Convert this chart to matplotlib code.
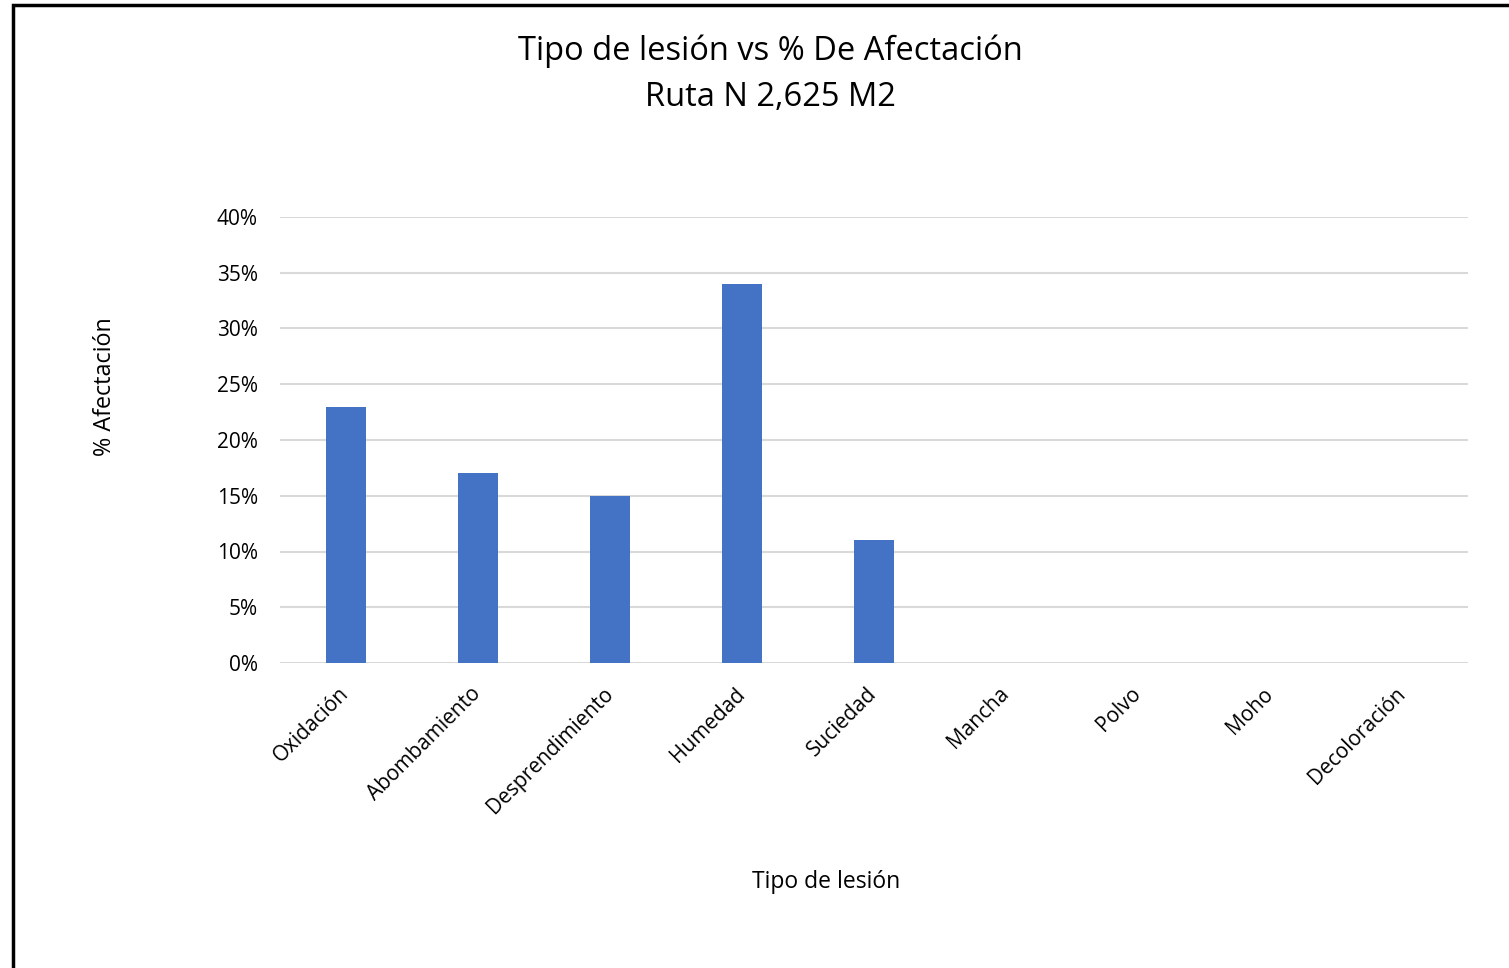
import matplotlib
matplotlib.use("Agg")
import matplotlib.pyplot as plt
from matplotlib.patches import Rectangle
from matplotlib.ticker import PercentFormatter

categories = ["Oxidación", "Abombamiento", "Desprendimiento", "Humedad", "Suciedad",
              "Mancha", "Polvo", "Moho", "Decoloración"]
values = [0.23, 0.17, 0.15, 0.34, 0.11, 0, 0, 0, 0]
yticks = [0, 0.05, 0.10, 0.15, 0.20, 0.25, 0.30, 0.35, 0.40]

plt.rcParams['font.family'] = ['Open Sans', 'DejaVu Sans']

W, H = 1509, 968
fig = plt.figure(figsize=(W/100, H/100), dpi=100)
ax = fig.add_axes([280/W, 1-663/H, (1468-280)/W, (663-217)/H])

x = list(range(len(categories)))
ax.bar(x, values, width=0.31, color="#4472C4", zorder=3)
ax.set_xlim(-0.5, len(categories)-0.5)
ax.set_ylim(0, 0.40)
ax.set_yticks(yticks)
ax.yaxis.set_major_formatter(PercentFormatter(1.0, decimals=0))
ax.grid(axis='y', color="#D9D9D9", linewidth=1.5, zorder=0)
for s in ax.spines.values():
    s.set_visible(False)
ax.tick_params(axis='both', length=0, labelsize=15, colors="#000000")
ax.tick_params(axis='y', pad=16)
ax.set_xticks(x)
ax.set_xticklabels(categories, rotation=45, ha='right', va='center', rotation_mode='anchor')
ax.tick_params(axis='x', pad=20)

fig.text(770/W, 1-51/H, "Tipo de lesión vs % De Afectación", ha='center', va='center', fontsize=23.5)
fig.text(770/W, 1-97/H, "Ruta N 2,625 M2", ha='center', va='center', fontsize=23.5)
fig.text(105/W, 1-387/H, "% Afectación", rotation=90, ha='center', va='center', fontsize=16.8)
fig.text(826/W, 1-882/H, "Tipo de lesión", ha='center', va='center', fontsize=16.5)

fig.patches.append(Rectangle((13/W, -0.1), 1.2, 1-5/H+0.1, transform=fig.transFigure,
                             fill=False, edgecolor='black', linewidth=2.5))

fig.savefig("out.png", dpi=100)
